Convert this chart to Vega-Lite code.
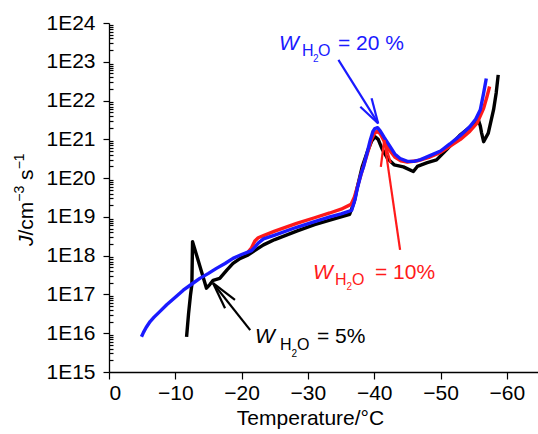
{
  "$schema": "https://vega.github.io/schema/vega-lite/v6.json",
  "width": 429,
  "height": 349,
  "autosize": {"type": "none"},
  "padding": {"left": 109, "top": 23, "right": 0, "bottom": 62},
  "background": "white",
  "config": {
    "view": {"stroke": null},
    "font": "Liberation Sans",
    "axis": {
      "domainColor": "black", "tickColor": "black", "labelColor": "black", "titleColor": "black",
      "labelFont": "Liberation Sans", "titleFont": "Liberation Sans",
      "labelFontSize": 21, "titleFontSize": 21, "titleFontWeight": "normal",
      "grid": false, "domainWidth": 1.3, "tickWidth": 1.2, "labelOverlap": false
    }
  },
  "datasets": {
    "curves": [
      {"series": "05%", "T": -11.7, "J": 8.1e15},
      {"series": "05%", "T": -12.0, "J": 3.2e16},
      {"series": "05%", "T": -12.3, "J": 1.0e17},
      {"series": "05%", "T": -12.5, "J": 1.8e17},
      {"series": "05%", "T": -12.6, "J": 2.3e18},
      {"series": "05%", "T": -14.7, "J": 1.45e17},
      {"series": "05%", "T": -15.2, "J": 1.8e17},
      {"series": "05%", "T": -15.7, "J": 2.3e17},
      {"series": "05%", "T": -16.7, "J": 2.6e17},
      {"series": "05%", "T": -17.8, "J": 4.3e17},
      {"series": "05%", "T": -18.7, "J": 6.3e17},
      {"series": "05%", "T": -19.8, "J": 8.5e17},
      {"series": "05%", "T": -21.0, "J": 1.05e18},
      {"series": "05%", "T": -23.3, "J": 1.9e18},
      {"series": "05%", "T": -25.0, "J": 2.6e18},
      {"series": "05%", "T": -28.3, "J": 4.3e18},
      {"series": "05%", "T": -31.0, "J": 6.3e18},
      {"series": "05%", "T": -33.3, "J": 8.3e18},
      {"series": "05%", "T": -36.3, "J": 1.17e19},
      {"series": "05%", "T": -37.0, "J": 2.5e19},
      {"series": "05%", "T": -37.5, "J": 6.3e19},
      {"series": "05%", "T": -38.2, "J": 2.0e20},
      {"series": "05%", "T": -39.0, "J": 5.0e20},
      {"series": "05%", "T": -39.6, "J": 8.9e20},
      {"series": "05%", "T": -40.1, "J": 1.17e21},
      {"series": "05%", "T": -40.6, "J": 1.0e21},
      {"series": "05%", "T": -41.2, "J": 5.6e20},
      {"series": "05%", "T": -42.0, "J": 3.2e20},
      {"series": "05%", "T": -43.0, "J": 2.2e20},
      {"series": "05%", "T": -44.4, "J": 1.95e20},
      {"series": "05%", "T": -45.9, "J": 1.48e20},
      {"series": "05%", "T": -46.5, "J": 2.0e20},
      {"series": "05%", "T": -48.0, "J": 2.5e20},
      {"series": "05%", "T": -49.4, "J": 2.95e20},
      {"series": "05%", "T": -51.0, "J": 5.6e20},
      {"series": "05%", "T": -52.9, "J": 1.26e21},
      {"series": "05%", "T": -54.5, "J": 2.1e21},
      {"series": "05%", "T": -55.7, "J": 3.2e21},
      {"series": "05%", "T": -56.0, "J": 2.2e21},
      {"series": "05%", "T": -56.2, "J": 1.45e21},
      {"series": "05%", "T": -56.5, "J": 8.7e20},
      {"series": "05%", "T": -57.2, "J": 1.45e21},
      {"series": "05%", "T": -58.0, "J": 5.8e21},
      {"series": "05%", "T": -58.4, "J": 1.6e22},
      {"series": "05%", "T": -58.7, "J": 4.6e22},
      {"series": "10%", "T": -21.0, "J": 1.26e18},
      {"series": "10%", "T": -21.5, "J": 1.6e18},
      {"series": "10%", "T": -22.0, "J": 2.4e18},
      {"series": "10%", "T": -22.5, "J": 2.9e18},
      {"series": "10%", "T": -23.3, "J": 3.3e18},
      {"series": "10%", "T": -25.0, "J": 4.3e18},
      {"series": "10%", "T": -28.3, "J": 6.8e18},
      {"series": "10%", "T": -31.0, "J": 9.5e18},
      {"series": "10%", "T": -33.3, "J": 1.26e19},
      {"series": "10%", "T": -35.0, "J": 1.58e19},
      {"series": "10%", "T": -36.5, "J": 2.1e19},
      {"series": "10%", "T": -37.0, "J": 3.2e19},
      {"series": "10%", "T": -37.5, "J": 6.3e19},
      {"series": "10%", "T": -38.2, "J": 1.6e20},
      {"series": "10%", "T": -39.0, "J": 4.5e20},
      {"series": "10%", "T": -39.6, "J": 1.0e21},
      {"series": "10%", "T": -40.0, "J": 1.4e21},
      {"series": "10%", "T": -40.4, "J": 1.6e21},
      {"series": "10%", "T": -40.9, "J": 1.4e21},
      {"series": "10%", "T": -41.5, "J": 8.9e20},
      {"series": "10%", "T": -42.4, "J": 5.0e20},
      {"series": "10%", "T": -43.1, "J": 3.5e20},
      {"series": "10%", "T": -44.0, "J": 2.8e20},
      {"series": "10%", "T": -45.0, "J": 2.6e20},
      {"series": "10%", "T": -46.5, "J": 2.8e20},
      {"series": "10%", "T": -48.4, "J": 3.5e20},
      {"series": "10%", "T": -50.0, "J": 4.6e20},
      {"series": "10%", "T": -51.4, "J": 6.6e20},
      {"series": "10%", "T": -53.0, "J": 1.0e21},
      {"series": "10%", "T": -54.4, "J": 1.6e21},
      {"series": "10%", "T": -55.5, "J": 2.6e21},
      {"series": "10%", "T": -56.5, "J": 6.3e21},
      {"series": "10%", "T": -57.0, "J": 1.26e22},
      {"series": "10%", "T": -57.4, "J": 2.3e22},
      {"series": "20%", "T": -4.9, "J": 8.1e15},
      {"series": "20%", "T": -5.2, "J": 1.05e16},
      {"series": "20%", "T": -5.6, "J": 1.4e16},
      {"series": "20%", "T": -6.2, "J": 2.0e16},
      {"series": "20%", "T": -6.8, "J": 2.6e16},
      {"series": "20%", "T": -7.5, "J": 3.4e16},
      {"series": "20%", "T": -8.7, "J": 5.4e16},
      {"series": "20%", "T": -10.0, "J": 8.5e16},
      {"series": "20%", "T": -11.2, "J": 1.29e17},
      {"series": "20%", "T": -12.5, "J": 1.86e17},
      {"series": "20%", "T": -13.7, "J": 2.6e17},
      {"series": "20%", "T": -15.0, "J": 3.5e17},
      {"series": "20%", "T": -16.2, "J": 4.7e17},
      {"series": "20%", "T": -17.5, "J": 6.3e17},
      {"series": "20%", "T": -18.7, "J": 8.5e17},
      {"series": "20%", "T": -20.0, "J": 1.07e18},
      {"series": "20%", "T": -21.5, "J": 1.35e18},
      {"series": "20%", "T": -22.0, "J": 1.66e18},
      {"series": "20%", "T": -22.5, "J": 2.1e18},
      {"series": "20%", "T": -23.3, "J": 2.7e18},
      {"series": "20%", "T": -25.0, "J": 3.4e18},
      {"series": "20%", "T": -28.3, "J": 5.4e18},
      {"series": "20%", "T": -31.0, "J": 7.6e18},
      {"series": "20%", "T": -33.3, "J": 1.0e19},
      {"series": "20%", "T": -35.0, "J": 1.2e19},
      {"series": "20%", "T": -36.6, "J": 1.48e19},
      {"series": "20%", "T": -37.1, "J": 2.8e19},
      {"series": "20%", "T": -37.4, "J": 5.0e19},
      {"series": "20%", "T": -38.0, "J": 1.26e20},
      {"series": "20%", "T": -38.4, "J": 2.0e20},
      {"series": "20%", "T": -39.0, "J": 5.0e20},
      {"series": "20%", "T": -39.4, "J": 9.5e20},
      {"series": "20%", "T": -39.8, "J": 1.6e21},
      {"series": "20%", "T": -40.1, "J": 1.9e21},
      {"series": "20%", "T": -40.5, "J": 2.0e21},
      {"series": "20%", "T": -40.9, "J": 1.66e21},
      {"series": "20%", "T": -41.5, "J": 1.12e21},
      {"series": "20%", "T": -42.4, "J": 6.5e20},
      {"series": "20%", "T": -43.1, "J": 4.2e20},
      {"series": "20%", "T": -43.9, "J": 3.2e20},
      {"series": "20%", "T": -45.0, "J": 2.7e20},
      {"series": "20%", "T": -46.0, "J": 2.7e20},
      {"series": "20%", "T": -47.0, "J": 3.0e20},
      {"series": "20%", "T": -48.4, "J": 3.8e20},
      {"series": "20%", "T": -50.0, "J": 5.0e20},
      {"series": "20%", "T": -51.4, "J": 7.6e20},
      {"series": "20%", "T": -53.0, "J": 1.26e21},
      {"series": "20%", "T": -54.4, "J": 2.1e21},
      {"series": "20%", "T": -55.3, "J": 3.3e21},
      {"series": "20%", "T": -56.0, "J": 5.8e21},
      {"series": "20%", "T": -56.5, "J": 1.55e22},
      {"series": "20%", "T": -56.9, "J": 3.7e22}
    ],
    "arrows": [
      {"series": "05%", "T": -21.3, "J": 1.2e16, "T2": -15.7, "J2": 1.95e17},
      {"series": "05%", "T": -15.7, "J": 1.95e17, "T2": -19.0, "J2": 7.2e16},
      {"series": "05%", "T": -15.7, "J": 1.95e17, "T2": -17.5, "J2": 4.4e16},
      {"series": "10%", "T": -43.9, "J": 1.41e18, "T2": -41.5, "J2": 9.5e20},
      {"series": "10%", "T": -41.5, "J": 9.5e20, "T2": -41.0, "J2": 1.95e20},
      {"series": "10%", "T": -41.5, "J": 9.5e20, "T2": -42.5, "J2": 2.45e20},
      {"series": "20%", "T": -34.6, "J": 1.12e23, "T2": -40.6, "J2": 2.57e21},
      {"series": "20%", "T": -40.6, "J": 2.57e21, "T2": -37.9, "J2": 6.9e21},
      {"series": "20%", "T": -40.6, "J": 2.57e21, "T2": -39.6, "J2": 1.15e22}
    ],
    "labelW": [
      {"series": "05%", "T": -22.02, "J": 5.6e15, "txt": "W"},
      {"series": "10%", "T": -30.77, "J": 2.5e17, "txt": "W"},
      {"series": "20%", "T": -25.64, "J": 2.0e23, "txt": "W"}
    ],
    "labelSub": [
      {"series": "05%", "T": -25.79, "J": 3.7e15, "txt": "H"},
      {"series": "05%", "T": -28.36, "J": 3.7e15, "txt": "O"},
      {"series": "10%", "T": -34.09, "J": 1.75e17, "txt": "H"},
      {"series": "10%", "T": -36.65, "J": 1.75e17, "txt": "O"},
      {"series": "20%", "T": -29.11, "J": 1.41e23, "txt": "H"},
      {"series": "20%", "T": -31.52, "J": 1.41e23, "txt": "O"}
    ],
    "labelSubSub": [
      {"series": "05%", "T": -27.53, "J": 2.44e15, "txt": "2"},
      {"series": "10%", "T": -35.82, "J": 1.3e17, "txt": "2"},
      {"series": "20%", "T": -30.77, "J": 9.86e22, "txt": "2"}
    ],
    "labelMain": [
      {"series": "05%", "T": -31.37, "J": 5.6e15, "txt": "= 5%"},
      {"series": "10%", "T": -40.12, "J": 2.5e17, "txt": "= 10%"},
      {"series": "20%", "T": -34.54, "J": 2.0e23, "txt": "= 20 %"}
    ],
    "ytitleMain": [
      {"T": 11.46, "J": 3.31e18, "txt": "/cm"},
      {"T": 11.46, "J": 9.0e19, "txt": "s"}
    ],
    "ytitleItalic": [
      {"T": 11.46, "J": 1.78e18, "txt": "J"}
    ],
    "ytitleSup": [
      {"T": 12.82, "J": 2.47e19, "txt": "\u22123"},
      {"T": 12.82, "J": 1.68e20, "txt": "\u22121"}
    ]
  },
  "layer": [
    {
      "data": {"name": "curves"},
      "mark": {"type": "line", "strokeWidth": 3.4, "strokeJoin": "round", "clip": true},
      "encoding": {
        "x": {
          "field": "T", "type": "quantitative",
          "scale": {"domain": [0, -64.7], "nice": false, "zero": false},
          "axis": {
            "orient": "bottom",
            "values": [0, -5, -10, -15, -20, -25, -30, -35, -40, -45, -50, -55, -60],
            "tickSize": {"condition": {"test": "datum.value % 10 != 0", "value": 4}, "value": 7},
            "labelPadding": 3,
            "labelExpr": "datum.value % 10 != 0 ? '' : (datum.value == 0 ? '0' : '\u2212' + abs(datum.value))",
            "title": "Temperature/°C", "titleX": 201, "titleY": 35, "titleBaseline": "top", "titleAnchor": "middle"
          }
        },
        "y": {
          "field": "J", "type": "quantitative",
          "scale": {"type": "log", "domain": [1e15, 1e24], "nice": false},
          "axis": {
            "orient": "left",
            "values": [1e15,2e15,3e15,4e15,5e15,6e15,7e15,8e15,9e15,
                       1e16,2e16,3e16,4e16,5e16,6e16,7e16,8e16,9e16,
                       1e17,2e17,3e17,4e17,5e17,6e17,7e17,8e17,9e17,
                       1e18,2e18,3e18,4e18,5e18,6e18,7e18,8e18,9e18,
                       1e19,2e19,3e19,4e19,5e19,6e19,7e19,8e19,9e19,
                       1e20,2e20,3e20,4e20,5e20,6e20,7e20,8e20,9e20,
                       1e21,2e21,3e21,4e21,5e21,6e21,7e21,8e21,9e21,
                       1e22,2e22,3e22,4e22,5e22,6e22,7e22,8e22,9e22,
                       1e23,2e23,3e23,4e23,5e23,6e23,7e23,8e23,9e23,1e24],
            "tickSize": {"condition": {"test": "abs(log(datum.value) / LN10 - round(log(datum.value) / LN10)) > 0.001", "value": -4}, "value": 6},
            "labelPadding": 8,
            "labelExpr": "abs(log(datum.value) / LN10 - round(log(datum.value) / LN10)) > 0.001 ? '' : '1E' + round(log(datum.value) / LN10)",
            "title": ""
          }
        },
        "color": {
          "field": "series", "type": "nominal",
          "scale": {"domain": ["05%", "10%", "20%"], "range": ["#000000", "#ff1a1a", "#1a1aff"]},
          "legend": null
        }
      }
    },
    {
      "data": {"name": "arrows"},
      "mark": {"type": "rule", "strokeWidth": 2.2},
      "encoding": {
        "x": {"field": "T", "type": "quantitative"},
        "x2": {"field": "T2"},
        "y": {"field": "J", "type": "quantitative"},
        "y2": {"field": "J2"},
        "color": {"field": "series", "type": "nominal", "legend": null}
      }
    },
    {
      "data": {"name": "labelW"},
      "mark": {"type": "text", "fontSize": 21, "fontStyle": "italic", "align": "left", "baseline": "alphabetic"},
      "encoding": {
        "x": {"field": "T", "type": "quantitative"},
        "y": {"field": "J", "type": "quantitative"},
        "text": {"field": "txt"},
        "color": {"field": "series", "type": "nominal", "legend": null}
      }
    },
    {
      "data": {"name": "labelSub"},
      "mark": {"type": "text", "fontSize": 16, "align": "left", "baseline": "alphabetic"},
      "encoding": {
        "x": {"field": "T", "type": "quantitative"},
        "y": {"field": "J", "type": "quantitative"},
        "text": {"field": "txt"},
        "color": {"field": "series", "type": "nominal", "legend": null}
      }
    },
    {
      "data": {"name": "labelSubSub"},
      "mark": {"type": "text", "fontSize": 10, "align": "left", "baseline": "alphabetic"},
      "encoding": {
        "x": {"field": "T", "type": "quantitative"},
        "y": {"field": "J", "type": "quantitative"},
        "text": {"field": "txt"},
        "color": {"field": "series", "type": "nominal", "legend": null}
      }
    },
    {
      "data": {"name": "labelMain"},
      "mark": {"type": "text", "fontSize": 21, "align": "left", "baseline": "alphabetic"},
      "encoding": {
        "x": {"field": "T", "type": "quantitative"},
        "y": {"field": "J", "type": "quantitative"},
        "text": {"field": "txt"},
        "color": {"field": "series", "type": "nominal", "legend": null}
      }
    },
    {
      "data": {"name": "ytitleMain"},
      "mark": {"type": "text", "fontSize": 21, "angle": 270, "align": "left", "baseline": "alphabetic", "color": "black"},
      "encoding": {
        "x": {"field": "T", "type": "quantitative"},
        "y": {"field": "J", "type": "quantitative"},
        "text": {"field": "txt"}
      }
    },
    {
      "data": {"name": "ytitleItalic"},
      "mark": {"type": "text", "fontSize": 21, "fontStyle": "italic", "angle": 270, "align": "left", "baseline": "alphabetic", "color": "black"},
      "encoding": {
        "x": {"field": "T", "type": "quantitative"},
        "y": {"field": "J", "type": "quantitative"},
        "text": {"field": "txt"}
      }
    },
    {
      "data": {"name": "ytitleSup"},
      "mark": {"type": "text", "fontSize": 14, "angle": 270, "align": "left", "baseline": "alphabetic", "color": "black"},
      "encoding": {
        "x": {"field": "T", "type": "quantitative"},
        "y": {"field": "J", "type": "quantitative"},
        "text": {"field": "txt"}
      }
    }
  ]
}
